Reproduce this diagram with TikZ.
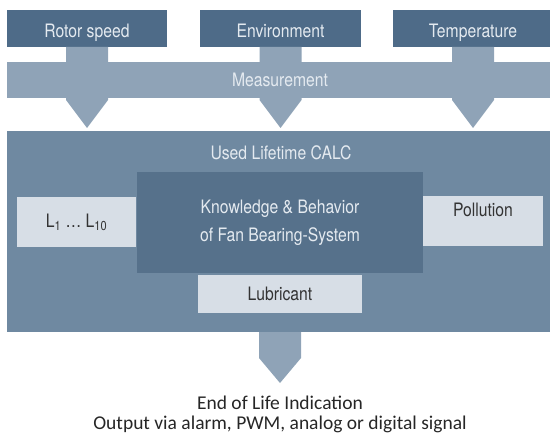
\documentclass[tikz,border=0pt]{standalone}
\usepackage{fontspec}
\newfontfamily\diafont[FakeStretch=0.85]{TeX Gyre Heros}
\newfontfamily\notefont{Carlito}
\usetikzlibrary{positioning}

\definecolor{topblue}{RGB}{78,107,136}
\definecolor{bandblue}{RGB}{143,163,183}
\definecolor{mainblue}{RGB}{111,137,161}
\definecolor{coreblue}{RGB}{86,113,139}
\definecolor{paleblue}{RGB}{215,222,230}
\definecolor{paletext}{RGB}{228,234,240}

\tikzset{
  blk/.style={inner sep=0pt, outer sep=0pt, align=center,
    font=\diafont\fontsize{18.5}{30}\selectfont},
  topbox/.style={blk, fill=topblue, text=paletext, text height=18pt, text depth=0pt,
    minimum width=160pt, minimum height=37pt},
  lightbox/.style={blk, fill=paleblue, text=black!80},
  blockarrow/.style={fill=bandblue}
}

\begin{document}
\begin{tikzpicture}[x=1pt,y={(0pt,-1pt)}]
\useasboundingbox (0,0) rectangle (550,436);
% inputs
\node[topbox] (rotor) at (87,28.5) {Rotor speed};
\node[topbox, minimum width=161pt] (env) at (280.5,28.5) {Environment};
\node[topbox] (temp) at (473,28.5) {Temperature};
% block arrows into and out of the measurement band
\fill[blockarrow] (rotor.south) ++(-21,0) -- ++(42,0) -- ++(0,53) -- ++(-21,28) -- ++(-21,-28) -- cycle;
\fill[blockarrow] (env.south) ++(-21,0) -- ++(42,0) -- ++(0,53) -- ++(-21,28) -- ++(-21,-28) -- cycle;
\fill[blockarrow] (temp.south) ++(-21,0) -- ++(42,0) -- ++(0,53) -- ++(-21,28) -- ++(-21,-28) -- cycle;
\node[blk, fill=bandblue, text=paletext, minimum width=546pt, minimum height=36pt]
  (meas) at (280,80) {Measurement};
% calculation block
\node[blk, fill=mainblue, minimum width=546pt, minimum height=201pt] (calc) at (280,231.5) {};
\node[blk, text=paletext] (calctitle) at (281,153) {Used Lifetime CALC};
\node[blk, fill=coreblue, text=paletext, minimum width=286pt, minimum height=101pt]
  (core) at (280,222.5) {\raisebox{-2pt}{Knowledge \& Behavior}\\of Fan Bearing-System};
\node[lightbox, minimum width=119pt, minimum height=50pt] (life) at (76.5,222)
  {L\textsubscript{1} \dots\ L\textsubscript{10}};
\node[lightbox, minimum width=120pt, minimum height=50pt, text height=12pt, text depth=22pt]
  (poll) at (483,221) {Pollution};
\node[lightbox, minimum width=164pt, minimum height=38pt] (lub) at (280,294) {Lubricant};
% output
\fill[blockarrow] (calc.south) ++(-21,0) -- ++(42,0) -- ++(0,26) -- ++(-21,25) -- ++(-21,-25) -- cycle;
\node[align=center, inner sep=0pt, text=black!85, font=\notefont\fontsize{19.5}{20}\selectfont]
  (out) at (280,414) {End of Life Indication\\Output via alarm, PWM, analog or digital signal};
\end{tikzpicture}
\end{document}
